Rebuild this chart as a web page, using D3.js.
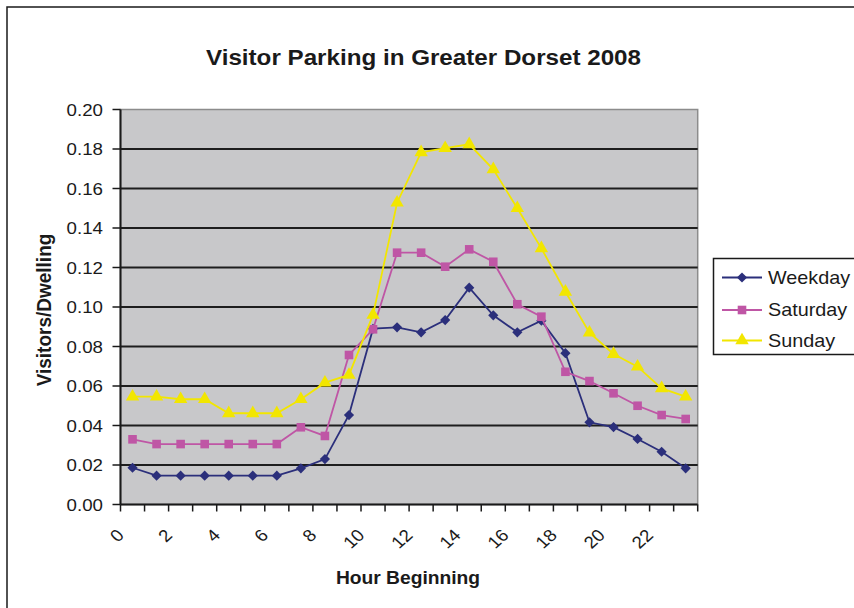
<!DOCTYPE html>
<html>
<head>
<meta charset="utf-8">
<script src="https://cdn.jsdelivr.net/npm/d3@7"></script>
<style>
  html, body { margin: 0; padding: 0; background: #fff; }
  svg { display: block; font-family: "Liberation Sans", Arial, sans-serif; }
</style>
</head>
<body>
<svg id="chart" width="854" height="608"></svg>
<script>
// Hourly visitor parking rates per dwelling, by day type
const hours = [0,1,2,3,4,5,6,7,8,9,10,11,12,13,14,15,16,17,18,19,20,21,22,23];
const hourLabels = ["0","2","4","6","8","10","12","14","16","18","20","22"];
const yTicks = [0,0.02,0.04,0.06,0.08,0.10,0.12,0.14,0.16,0.18,0.20];

const weekday  = [0.0186,0.0146,0.0146,0.0146,0.0146,0.0146,0.0146,0.0183,0.0230,0.0453,0.0890,0.0897,0.0872,0.0934,0.1098,0.0958,0.0872,0.0931,0.0766,0.0416,0.0392,0.0332,0.0267,0.0183];
const saturday = [0.0330,0.0306,0.0306,0.0306,0.0306,0.0306,0.0306,0.0391,0.0347,0.0757,0.0887,0.1275,0.1275,0.1204,0.1292,0.1229,0.1014,0.0951,0.0672,0.0625,0.0563,0.0500,0.0453,0.0433];
const sunday   = [0.0546,0.0546,0.0533,0.0533,0.0462,0.0462,0.0462,0.0533,0.0617,0.0656,0.0960,0.1528,0.1783,0.1804,0.1824,0.1697,0.1500,0.1297,0.1077,0.0870,0.0762,0.0698,0.0588,0.0546];

const seriesNames = ["Weekday","Saturday","Sunday"];
const seriesColors = ["#2b2f7b","#bf56a5","#f2e600"];
// diamond = square turned 45 degrees
const seriesSymbols = [d3.symbolSquare, d3.symbolSquare, d3.symbolTriangle];
const seriesTurns = [45, 0, 0];
const seriesSizes = [52, 74, 78];
const seriesValues = [weekday, saturday, sunday];

const svg = d3.select("#chart");
const SX = 1.1; // horizontal text stretch

const plot = { left: 120.5, right: 697.7, top: 109.5, bottom: 504.5 };

const x = d3.scaleBand().domain(hours).range([plot.left, plot.right]).padding(0);
const y = d3.scaleLinear().domain([0, 0.2]).range([plot.bottom, plot.top]);
const cx = h => x(h) + x.bandwidth() / 2;

function stretchedText(g, px, py, str, opts) {
  const t = g.append("text")
    .attr("transform", `translate(${px},${py}) scale(${SX},1)` + (opts.rotate ? ` rotate(${opts.rotate})` : ""))
    .attr("text-anchor", opts.anchor || "middle")
    .attr("font-size", opts.size)
    .attr("font-weight", opts.weight || "normal")
    .attr("fill", "#1a1a1a")
    .text(str);
  if (opts.dy) t.attr("dy", opts.dy);
  return t;
}

// outer chart frame
svg.append("rect")
  .attr("x", 7).attr("y", 7).attr("width", 880).attr("height", 640)
  .attr("fill", "#fff").attr("stroke", "#1a1a1a").attr("stroke-width", 1.5);

// plot background
svg.append("rect")
  .attr("x", plot.left).attr("y", plot.top)
  .attr("width", plot.right - plot.left).attr("height", plot.bottom - plot.top)
  .attr("fill", "#c8c8ca").attr("stroke", "#8c8c8c").attr("stroke-width", 1.5);

// horizontal gridlines
svg.append("g").selectAll("line")
  .data(yTicks.filter(v => v > 0 && v < 0.2))
  .join("line")
  .attr("x1", plot.left).attr("x2", plot.right)
  .attr("y1", d => y(d)).attr("y2", d => y(d))
  .attr("stroke", "#1e1e1e").attr("stroke-width", 1.8);

// y axis line, ticks and labels
const yAxis = svg.append("g");
yAxis.append("line")
  .attr("x1", plot.left).attr("x2", plot.left)
  .attr("y1", plot.top).attr("y2", plot.bottom)
  .attr("stroke", "#1a1a1a").attr("stroke-width", 2);
yAxis.selectAll("line.tick")
  .data(yTicks).join("line").attr("class", "tick")
  .attr("x1", plot.left - 8).attr("x2", plot.left)
  .attr("y1", d => y(d)).attr("y2", d => y(d))
  .attr("stroke", "#1a1a1a").attr("stroke-width", 1.5);
yTicks.forEach(v => {
  stretchedText(yAxis, 103, y(v), d3.format(".2f")(v), { size: 17, anchor: "end", dy: "0.36em" });
});

// x axis line, ticks between categories, rotated labels
const xAxis = svg.append("g");
xAxis.append("line")
  .attr("x1", plot.left).attr("x2", plot.right)
  .attr("y1", plot.bottom).attr("y2", plot.bottom)
  .attr("stroke", "#1a1a1a").attr("stroke-width", 2);
const tickPos = hours.map(h => x(h)).concat([plot.right]);
xAxis.selectAll("line.tick")
  .data(tickPos).join("line").attr("class", "tick")
  .attr("x1", d => d).attr("x2", d => d)
  .attr("y1", plot.bottom).attr("y2", plot.bottom + 7)
  .attr("stroke", "#1a1a1a").attr("stroke-width", 1.5);
hourLabels.forEach(lbl => {
  const h = +lbl;
  stretchedText(xAxis, cx(h) - 12, 532, lbl, { size: 17, anchor: "end", dy: "0.35em", rotate: -45 });
});

// series lines and markers
seriesValues.forEach((vals, i) => {
  const g = svg.append("g");
  const line = d3.line().x((d, j) => cx(hours[j])).y(d => y(d));
  g.append("path")
    .attr("d", line(vals))
    .attr("fill", "none")
    .attr("stroke", seriesColors[i])
    .attr("stroke-width", 1.8);
  g.selectAll("path.m")
    .data(vals).join("path").attr("class", "m")
    .attr("d", d3.symbol().type(seriesSymbols[i]).size(seriesSizes[i]))
    .attr("transform", (d, j) => `translate(${cx(hours[j])},${y(d)}) rotate(${seriesTurns[i]})`)
    .attr("fill", seriesColors[i]);
});

// titles
stretchedText(svg, 423.5, 65, "Visitor Parking in Greater Dorset 2008", { size: 22, weight: "bold" });
stretchedText(svg, 408, 584, "Hour Beginning", { size: 17.5, weight: "bold" });
stretchedText(svg, 51, 310, "Visitors/Dwelling", { size: 19, weight: "bold", rotate: -90 });

// legend
const legend = svg.append("g");
legend.append("rect")
  .attr("x", 713.5).attr("y", 258.5).attr("width", 170).attr("height", 96)
  .attr("fill", "#fff").attr("stroke", "#1a1a1a").attr("stroke-width", 1.5);
const legendY = [277.5, 310, 340.5];
seriesNames.forEach((name, i) => {
  legend.append("line")
    .attr("x1", 722).attr("x2", 762)
    .attr("y1", legendY[i]).attr("y2", legendY[i])
    .attr("stroke", seriesColors[i]).attr("stroke-width", 1.8);
  legend.append("path")
    .attr("d", d3.symbol().type(seriesSymbols[i]).size(seriesSizes[i])())
    .attr("transform", `translate(742,${legendY[i]}) rotate(${seriesTurns[i]})`)
    .attr("fill", seriesColors[i]);
  stretchedText(legend, 768, legendY[i], name, { size: 18, anchor: "start", dy: "0.36em" });
});
</script>
</body>
</html>
